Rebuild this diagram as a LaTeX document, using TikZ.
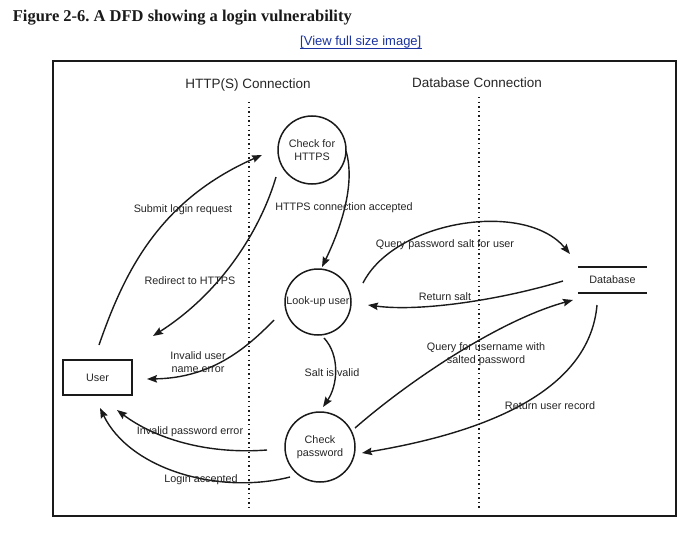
\documentclass[tikz,border=0pt]{standalone}
\usepackage{fontspec}
\setmainfont{Liberation Sans}
\newfontfamily\titlefont{Liberation Serif}
\usetikzlibrary{arrows.meta,calc}
\definecolor{ink}{HTML}{1A1A1A}
\definecolor{txt}{HTML}{262626}
\definecolor{linkblue}{HTML}{1A33A0}
\newcommand{\lblfont}{\fontsize{10.8}{12.5}\selectfont}
\frenchspacing
\tikzset{
  proc/.style={circle, draw=ink, line width=1.5pt, minimum size=#1, inner sep=0pt, align=center, font=\lblfont, text=txt},
  entity/.style={draw=ink, line width=1.5pt, minimum width=69pt, minimum height=35pt, inner sep=0pt, font=\lblfont, text=txt},
  store/.style={minimum width=69pt, minimum height=26pt, inner sep=0pt, font=\lblfont, text=txt},
  hdr/.style={font=\fontsize{13.5}{15}\selectfont, text=txt, inner sep=0pt},
  lbl/.style={font=\lblfont, text=txt, align=center, inner sep=0pt},
  flow/.style={draw=ink, line width=1.4pt, -{Stealth[length=10pt,width=7.5pt,inset=1.5pt]}},
  boundary/.style={draw=ink, line width=1.4pt, dash pattern=on 1.4pt off 3.2pt},
}
\begin{document}
\begin{tikzpicture}[x=1pt,y=-1pt]
\useasboundingbox[fill=white] (0,0) rectangle (693,535);

% caption
\node[anchor=base west, inner sep=0pt, font=\titlefont\bfseries\fontsize{16.5}{18}\selectfont, text=ink] (title) at (12.7,21.7) {Figure 2-6. A DFD showing a login vulnerability};
\node[anchor=base west, inner sep=0pt, font=\fontsize{13}{15}\selectfont, text=linkblue] (link) at (300,46) {[View full size image]};
\draw[linkblue, line width=1.3pt] ($(link.base west)+(0,2.5)$) -- ($(link.base east)+(0,2.5)$);

% frame
\draw[ink, line width=1.2pt] (53,61) rectangle (676,516);

% trust boundaries
\node[hdr] (h1) at (248,85) {HTTP(S) Connection};
\node[hdr] (h2) at (477,83) {Database Connection};
\coordinate (b1top) at (249,102);
\coordinate (b1bot) at (249,508);
\coordinate (b2top) at (479,97);
\coordinate (b2bot) at (479,510);
\draw[boundary] (b1top) -- (b1bot);
\draw[boundary] (b2top) -- (b2bot);

% nodes
\node[proc=68pt] (chk) at (312,150) {Check for\\HTTPS};
\node[proc=66pt] (look) at (318,302) {Look-up user};
\node[proc=70pt] (cpw) at (320,447) {Check\\password};
\node[entity] (user) at (97.5,377.5) {User};
\node[store] (db) at (612.5,280) {Database};
\draw[ink, line width=1.5pt] (db.north west) -- (db.north east);
\draw[ink, line width=1.5pt] (db.south west) -- (db.south east);

% flows
\draw[flow] ($(user)+(1.5,-32.5)$) .. controls (125,270) and (160,200) .. ($(chk)+(-50,5)$);
\node[lbl] (l1) at (183,210) {Submit login request};

\draw[flow] ($(chk)+(-36,27)$) .. controls (262,225) and (225,290) .. ($(user)+(55.5,-41.5)$);
\node[lbl] (l2) at (190,281) {Redirect to HTTPS};

\draw[flow] ($(chk)+(34,1)$) .. controls (356,185) and (340,230) .. ($(look)+(4,-35)$);
\node[lbl] (l3) at (344,208) {HTTPS connection accepted};

\draw[flow] ($(look)+(45,-19)$) .. controls (395,220) and (525,200) .. ($(db)+(-42.5,-26)$);
\node[lbl] (l4) at (445,245) {Query password salt for user};

\draw[flow] ($(db)+(-49.5,1)$) .. controls (500,300) and (420,312) .. ($(look)+(50,3)$);
\node[lbl] (l5) at (445,297) {Return salt};

\draw[flow] ($(cpw)+(35,-19)$) .. controls (410,380) and (500,320) .. ($(db)+(-39.5,20)$);
\node[lbl] (l6) at (486,354) {Query for username with\\salted password};

\draw[flow] ($(db)+(-15.5,25)$) .. controls (590,385) and (500,430) .. ($(cpw)+(42,6)$);
\node[lbl] (l7) at (550,406) {Return user record};

\draw[flow] ($(look)+(6,36)$) .. controls (340,355) and (338,385) .. ($(cpw)+(3,-40)$);
\node[lbl] (l8) at (332,373) {Salt is valid};

\draw[flow] ($(look)+(-44,18)$) .. controls (245,350) and (210,378) .. ($(user)+(49.5,1.5)$);
\node[lbl] (l9) at (198,362) {Invalid user\\name error};

\draw[flow] ($(cpw)+(-53,3)$) .. controls (200,455) and (150,435) .. ($(user)+(19.5,32.5)$);
\node[lbl] (l10) at (190,432) {Invalid password error};

\draw[flow] ($(cpw)+(-30,30)$) .. controls (220,495) and (130,470) .. ($(user)+(2.5,30.5)$);
\node[lbl] (l11) at (201,480) {Login accepted};
\end{tikzpicture}
\end{document}
